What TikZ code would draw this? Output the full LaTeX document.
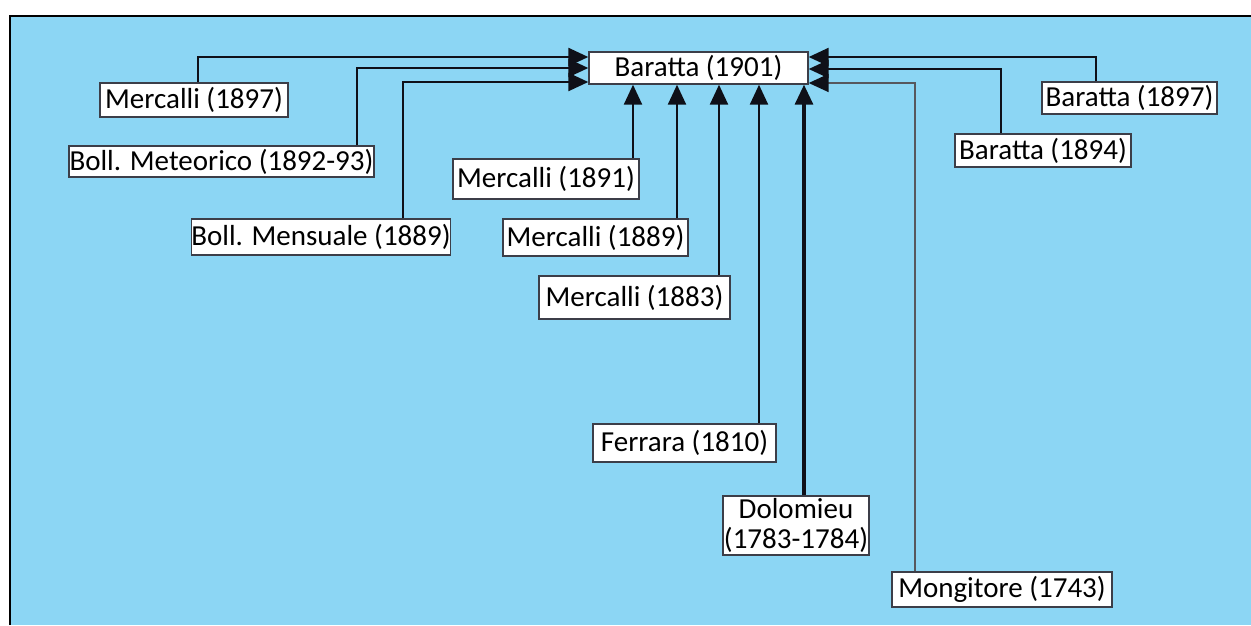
\documentclass[tikz,border=0pt]{standalone}
\usepackage{fontspec}
\setmainfont{Carlito}
\usetikzlibrary{arrows.meta}
\definecolor{bgblue}{RGB}{140,214,244}
\definecolor{boxline}{RGB}{60,62,72}
\definecolor{conn}{RGB}{15,16,24}
\tikzset{
  x=1pt, y=-1pt,
  lbl/.style={draw=boxline, line width=1.4pt, fill=white, inner sep=0pt,
    font=\fontsize{29}{30}\selectfont, text=black, align=center},
  arr/.style={draw=conn, line width=2.4pt,
    -{Triangle[length=20pt,width=18pt,fill=conn,color=conn]}},
}
\begin{document}
\begin{tikzpicture}
\useasboundingbox (0,0) rectangle (1251,625);
\fill[white] (0,0) rectangle (1251,625);
\fill[bgblue] (10,16) rectangle (1251,625);
\draw[black, line width=2pt] (10,625) -- (10,16) -- (1251,16);

% target
\node[lbl, minimum width=219pt, minimum height=32pt] (b01) at (698.5,68) {Baratta (1901)};

% left sources
\node[lbl, minimum width=188pt, minimum height=34pt] (m97) at (194,100) {Mercalli (1897)};
\node[lbl, minimum width=305pt, minimum height=31pt] (bmet) at (221.5,161.5) {Boll. Meteorico (1892-93)};
\node[lbl, minimum width=256pt, minimum height=36pt] (bmen) at (321,237) {Boll. Mensuale (1889)};

% right sources
\node[lbl, minimum width=175pt, minimum height=32pt] (b97) at (1129.5,98) {Baratta (1897)};
\node[lbl, minimum width=176pt, minimum height=33pt] (b94) at (1043,150.5) {Baratta (1894)};
\node[lbl, minimum width=220pt, minimum height=35pt] (mon) at (1002,589.5) {Mongitore (1743)};

% bottom sources
\node[lbl, minimum width=186pt, minimum height=40pt] (m91) at (546,179) {Mercalli (1891)};
\node[lbl, minimum width=185pt, minimum height=37pt] (m89) at (595.5,237.5) {Mercalli (1889)};
\node[lbl, minimum width=191pt, minimum height=43pt] (m83) at (634.5,297.5) {Mercalli (1883)};
\node[lbl, minimum width=183pt, minimum height=38pt] (fer) at (684.5,443) {Ferrara (1810)};
\node[lbl, minimum width=146pt, minimum height=59pt] (dol) at (796,525.5) {Dolomieu\\(1783-1784)};

% entry points on the target
\coordinate (l1) at ([yshift=11pt]b01.west);
\coordinate (l2) at (b01.west);
\coordinate (l3) at ([yshift=-14pt]b01.west);
\coordinate (r1) at ([yshift=11pt]b01.east);
\coordinate (r2) at ([yshift=-1pt]b01.east);
\coordinate (r3) at ([yshift=-15pt]b01.east);
\coordinate (s1) at ([xshift=-65.5pt]b01.south);
\coordinate (s2) at ([xshift=-21.5pt]b01.south);
\coordinate (s3) at ([xshift=20.5pt]b01.south);
\coordinate (s4) at ([xshift=60.5pt]b01.south);
\coordinate (s5) at ([xshift=105.5pt]b01.south);

% left connectors
\draw[arr] ([xshift=4pt]m97.north) |- (l1);
\draw[arr] ([xshift=135.5pt]bmet.north) |- (l2);
\draw[arr] ([xshift=82pt]bmen.north) |- (l3);

% right connectors
\draw[arr] ([xshift=-33.5pt]b97.north) |- (r1);
\draw[arr] ([xshift=-42pt]b94.north) |- (r2);
\draw[arr, line width=1.6pt, draw=conn!70] ([xshift=-87pt]mon.north) |- (r3);

% bottom connectors
\draw[arr] (m91.north -| s1) -- (s1);
\draw[arr] (m89.north -| s2) -- (s2);
\draw[arr] (m83.north -| s3) -- (s3);
\draw[arr] (fer.north -| s4) -- (s4);
\draw[arr, line width=3.2pt] (dol.north -| s5) -- (s5);
\end{tikzpicture}
\end{document}
